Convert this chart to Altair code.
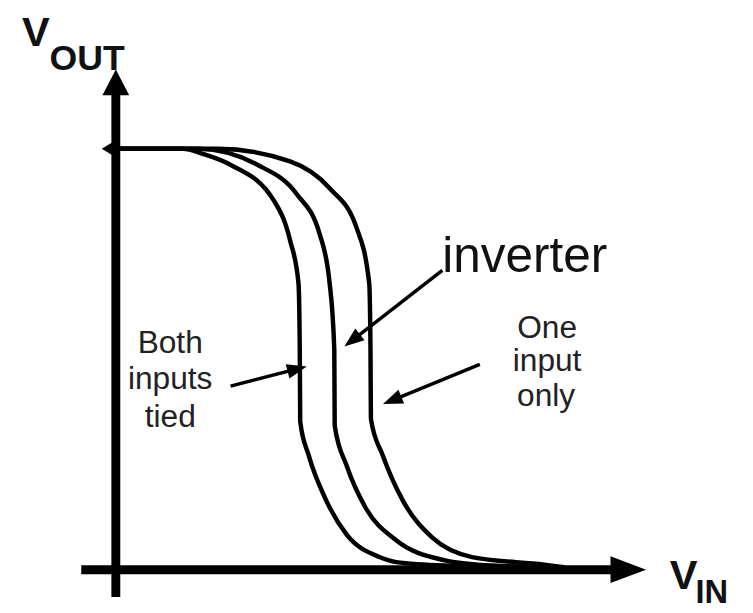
import math
import altair as alt
import pandas as pd

# ---- Transfer curves (volts, VDD = 5) ----
both_vin  = [0.00, 0.80, 1.03, 1.36, 1.88, 2.07, 2.17, 2.185, 2.19, 2.29, 2.50, 2.74, 3.13, 3.33, 3.91, 5.09]
both_vout = [5.00, 5.00, 4.94, 4.81, 4.38, 3.91, 3.40, 2.61, 1.76, 1.36, 0.82, 0.42, 0.15, 0.09, 0.05, 0.03]
inv_vin   = [0.00, 0.98, 1.68, 2.15, 2.42, 2.54, 2.595, 2.60, 2.74, 2.97, 3.33, 3.91, 4.30, 5.15]
inv_vout  = [5.00, 5.00, 4.81, 4.46, 3.99, 3.40, 2.61, 1.71, 1.24, 0.73, 0.35, 0.11, 0.06, 0.03]
one_vin   = [0.00, 1.21, 2.07, 2.54, 2.86, 3.01, 3.025, 3.03, 3.17, 3.41, 3.76, 4.23, 5.09, 5.32]
one_vout  = [5.00, 5.00, 4.85, 4.53, 4.06, 3.40, 2.61, 1.79, 1.36, 0.82, 0.38, 0.15, 0.06, 0.03]

# ---- Labels ----
axis_labels   = ["V", "OUT", "V", "IN"]
axis_label_x  = [-1.116, -0.787, 6.580, 6.886]
axis_label_y  = [6.222, 5.940, -0.229, -0.394]
axis_label_sz = [42, 36, 42, 33]

main_label   = ["inverter"]
main_label_x = [3.878]
main_label_y = [3.531]

callout_text = ["One", "input", "only", "Both", "inputs", "tied"]
callout_x    = [5.123, 5.123, 5.111, 0.646, 0.646, 0.646]
callout_y    = [2.756, 2.356, 1.945, 2.579, 2.145, 1.698]

# ---- Annotation arrows: start -> tip (volts) ----
arrow_start = [(3.878, 3.555), (4.324, 2.438), (1.363, 2.180)]
arrow_tip   = [(2.714, 2.650), (3.173, 1.968), (2.268, 2.415)]

# ---- Axes (drawn as thick rules with arrowheads) ----
axis_x1 = [0.0, -0.411]
axis_y1 = [-0.323, 0.0]
axis_x2 = [0.0, 5.95]
axis_y2 = [5.70, 0.0]
axis_tip = [(0.0, 5.940), (6.299, 0.0)]

vdd_mark = [(-0.05, 5.0)]

W, H = 745, 605
K = 85.1  # px per volt
x_dom = [-109 / K, (W - 109) / K]
y_dom = [-(H - 564.5) / K, 564.5 / K]

def X(f):
    return alt.X(f, type="quantitative", scale=alt.Scale(domain=x_dom, nice=False, zero=False), axis=None)

def Y(f):
    return alt.Y(f, type="quantitative", scale=alt.Scale(domain=y_dom, nice=False, zero=False), axis=None)

# curves table
rows = []
for name, xs, ys in [("both", both_vin, both_vout), ("inv", inv_vin, inv_vout), ("one", one_vin, one_vout)]:
    for i, (a, b) in enumerate(zip(xs, ys)):
        rows.append({"series": name, "i": i, "vin": a, "vout": b})
curves_df = pd.DataFrame(rows)

curves = alt.Chart(curves_df).mark_line(
    color="black", strokeWidth=4.5, interpolate="monotone", strokeCap="round", strokeJoin="round"
).encode(x=X("vin"), y=Y("vout"), detail="series:N", order="i:Q")

# axis rules
axes_df = pd.DataFrame({"x": axis_x1, "y": axis_y1, "x2": axis_x2, "y2": axis_y2})
axes = alt.Chart(axes_df).mark_rule(color="black", strokeWidth=9, strokeCap="butt").encode(
    x=X("x"), y=Y("y"), x2="x2", y2="y2"
)

# arrowheads
head_path = "M0,0L-0.75,2L0.75,2Z"
yhead_path = "M0,0L-1.04,2L1.04,2Z"

def ang(sx, sy, tx, ty):
    return math.degrees(math.atan2(tx - sx, ty - sy)) % 360

heads = []
lines = []
for (sx, sy), (tx, ty) in zip(arrow_start, arrow_tip):
    heads.append({"x": tx, "y": ty, "angle": ang(sx, sy, tx, ty), "shape": head_path, "size": 400})
    L = math.hypot(tx - sx, ty - sy)
    back = 16 / K
    lines.append({"x": sx, "y": sy, "x2": tx - (tx - sx) / L * back, "y2": ty - (ty - sy) / L * back})
heads.append({"x": axis_tip[0][0], "y": axis_tip[0][1], "angle": 0, "shape": yhead_path, "size": 676})
heads.append({"x": axis_tip[1][0], "y": axis_tip[1][1], "angle": 90, "shape": head_path, "size": 1296})
heads_df = pd.DataFrame(heads)

arrow_lines = alt.Chart(pd.DataFrame(lines)).mark_rule(color="black", strokeWidth=3.5).encode(
    x=X("x"), y=Y("y"), x2="x2", y2="y2"
)
arrow_heads = alt.Chart(heads_df).mark_point(filled=True, color="black", opacity=1, strokeWidth=0).encode(
    x=X("x"), y=Y("y"),
    angle=alt.Angle("angle:Q", scale=None),
    shape=alt.Shape("shape:N", scale=None),
    size=alt.Size("size:Q", scale=None),
)

vdd_df = pd.DataFrame({"x": [p[0] for p in vdd_mark], "y": [p[1] for p in vdd_mark]})
vdd = alt.Chart(vdd_df).mark_point(
    filled=True, color="black", opacity=1, strokeWidth=0, shape="M-1,0L0,-0.6L1,0L0,0.6Z", size=400
).encode(x=X("x"), y=Y("y"))

# texts
ax_lab_df = pd.DataFrame({"t": axis_labels, "x": axis_label_x, "y": axis_label_y, "s": axis_label_sz})
ax_labels = alt.Chart(ax_lab_df).mark_text(
    font="Liberation Sans", fontWeight="bold", align="left", baseline="alphabetic", color="#111"
).encode(x=X("x"), y=Y("y"), text="t:N", size=alt.Size("s:Q", scale=None))

main_df = pd.DataFrame({"t": main_label, "x": main_label_x, "y": main_label_y})
main_txt = alt.Chart(main_df).mark_text(
    font="Liberation Sans", fontSize=50, align="left", baseline="alphabetic", color="#111"
).encode(x=X("x"), y=Y("y"), text="t:N")

call_df = pd.DataFrame({"t": callout_text, "x": callout_x, "y": callout_y})
call_txt = alt.Chart(call_df).mark_text(
    font="Liberation Sans", fontSize=32, align="center", baseline="alphabetic", color="#222"
).encode(x=X("x"), y=Y("y"), text="t:N")

chart = alt.layer(
    axes, curves, vdd, arrow_lines, arrow_heads, ax_labels, main_txt, call_txt
).properties(width=W, height=H, padding=0, autosize="none").configure_view(stroke=None)

chart.save("out.html", embed_options={"renderer": "svg", "actions": False})
